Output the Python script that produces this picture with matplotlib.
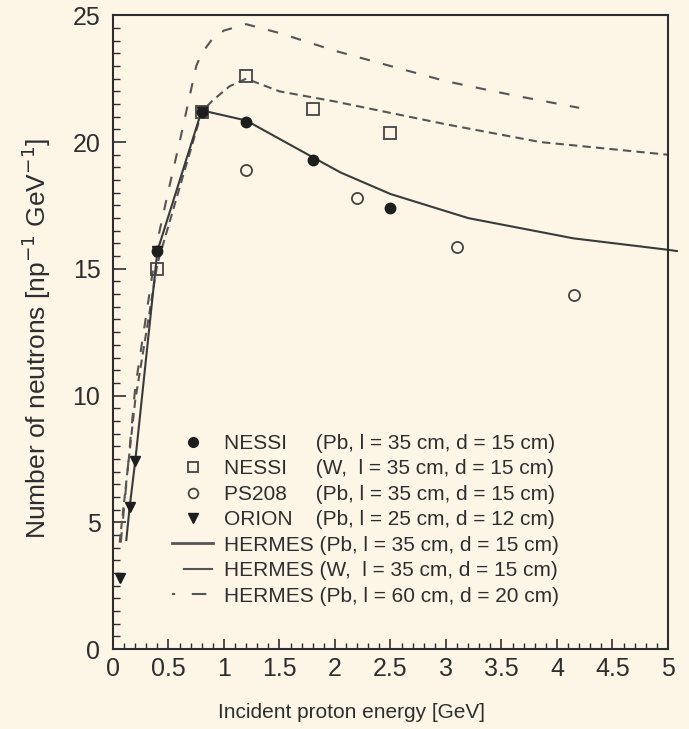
import matplotlib
matplotlib.use("Agg")
import matplotlib.pyplot as plt
from matplotlib.lines import Line2D
from matplotlib.ticker import MultipleLocator

# measured points
nessi_pb_x = [0.4, 0.8, 1.2, 1.8, 2.5]
nessi_pb_y = [15.7, 21.2, 20.8, 19.3, 17.4]
nessi_w_x = [0.4, 0.8, 1.2, 1.8, 2.5]
nessi_w_y = [15.0, 21.2, 22.6, 21.3, 20.35]
ps208_x = [1.2, 2.2, 3.1, 4.15]
ps208_y = [18.9, 17.8, 15.85, 13.95]
orion_x = [0.06, 0.15, 0.2, 0.4, 0.8]
orion_y = [2.8, 5.6, 7.4, 15.7, 21.2]

# HERMES calculations
hermes_pb_x = [0.12, 0.15, 0.2, 0.4, 0.8, 1.2, 1.8, 2.05, 2.5, 3.2, 4.15, 5.0, 5.08]
hermes_pb_y = [4.3, 5.6, 7.4, 15.7, 21.25, 20.85, 19.4, 18.8, 17.95, 17.0, 16.2, 15.75, 15.7]
hermes_w_x = [0.06, 0.1, 0.15, 0.2, 0.4, 0.8, 0.9, 1.05, 1.2, 1.5, 2.0, 2.5, 3.0, 3.85, 5.0]
hermes_w_y = [4.2, 5.8, 7.8, 9.8, 15.2, 21.2, 21.65, 22.2, 22.5, 22.0, 21.6, 21.15, 20.7, 20.0, 19.5]
hermes_pb60_x = [0.07, 0.12, 0.2, 0.4, 0.5, 0.6, 0.7, 0.75, 0.8, 0.9, 1.0, 1.2, 1.5, 2.0, 2.5, 3.0, 3.6, 4.2]
hermes_pb60_y = [4.2, 6.5, 10.3, 16.1, 18.1, 20.0, 22.0, 23.0, 23.5, 24.1, 24.4, 24.65, 24.3, 23.6, 23.0, 22.4, 21.85, 21.35]

legend_names = ["NESSI", "NESSI", "PS208", "ORION", "HERMES", "HERMES", "HERMES"]
legend_pads = [5, 5, 5, 4, 1, 1, 1]
legend_details = ["(Pb, l = 35 cm, d = 15 cm)", "(W,  l = 35 cm, d = 15 cm)",
                  "(Pb, l = 35 cm, d = 15 cm)", "(Pb, l = 25 cm, d = 12 cm)",
                  "(Pb, l = 35 cm, d = 15 cm)", "(W,  l = 35 cm, d = 15 cm)",
                  "(Pb, l = 60 cm, d = 20 cm)"]

bg = "#fdf6e7"
ink = "#2e2e2e"
plt.rcParams['font.family'] = ['Liberation Sans', 'DejaVu Sans']

fig = plt.figure(figsize=(6.89, 7.29), dpi=100, facecolor=bg)
ax = fig.add_axes([0.164, 0.1097, 0.8055, 0.8693], facecolor=bg)

ax.plot(hermes_pb60_x, hermes_pb60_y, color="#555555", lw=1.5, dashes=(5, 6.5))
ax.plot(hermes_w_x, hermes_w_y, color="#555555", lw=1.5, dashes=(4, 2.5))
ax.plot(hermes_pb_x, hermes_pb_y, color="#3a3a3a", lw=1.5, clip_on=False)

ax.plot(nessi_w_x, nessi_w_y, ls="none", marker="s", ms=8, mfc="none", mec="#444444", mew=1.3)
ax.plot(ps208_x, ps208_y, ls="none", marker="o", ms=8, mfc="none", mec="#444444", mew=1.3)
ax.plot(nessi_pb_x, nessi_pb_y, ls="none", marker="o", ms=7.5, color="#1e1e1e")
ax.plot(orion_x, orion_y, ls="none", marker="v", ms=7, color="#1e1e1e")

handles = [
    Line2D([], [], ls="none", marker="o", ms=7, color="#1e1e1e"),
    Line2D([], [], ls="none", marker="s", ms=7, mfc="none", mec="#444444", mew=1.3),
    Line2D([], [], ls="none", marker="o", ms=7, mfc="none", mec="#444444", mew=1.3),
    Line2D([], [], ls="none", marker="v", ms=7, color="#1e1e1e"),
    Line2D([], [], color="#555555", lw=2.0),
    Line2D([], [], color="#555555", lw=1.5, dashes=(0.01, 5.2, 14.5, 50)),
    Line2D([], [], color="#555555", lw=1.5, dashes=(1.5, 8, 7, 50)),
]
labels = [n + " " * p + d for n, p, d in zip(legend_names, legend_pads, legend_details)]
leg = ax.legend(handles, labels, loc="lower center", bbox_to_anchor=(0.455, 0.052),
                frameon=False, fontsize=15, handlelength=1.95, handletextpad=0.5,
                labelspacing=0.31, borderpad=0, labelcolor=ink)

ax.set_xlim(0, 5)
ax.set_ylim(0, 25)
ax.xaxis.set_major_locator(MultipleLocator(0.5))
ax.xaxis.set_minor_locator(MultipleLocator(0.1))
ax.yaxis.set_major_locator(MultipleLocator(5))
ax.yaxis.set_minor_locator(MultipleLocator(0.5))
ax.set_xticks([0, 0.5, 1, 1.5, 2, 2.5, 3, 3.5, 4, 4.5, 5])
ax.set_xticklabels(["0", "0.5", "1", "1.5", "2", "2.5", "3", "3.5", "4", "4.5", "5"])

ax.tick_params(which="both", direction="in", colors=ink, labelsize=18)
ax.tick_params(axis="y", which="major", length=9, width=1.2, pad=9)
ax.tick_params(axis="y", which="minor", length=5, width=1.0)
ax.tick_params(axis="x", which="major", length=7, width=1.2, pad=6)
ax.tick_params(axis="x", which="minor", length=4, width=1.0)
for s in ax.spines.values():
    s.set_color(ink)
    s.set_linewidth(1.5)

ax.set_xlabel("Incident proton energy [GeV]", fontsize=15, color=ink)
ax.xaxis.set_label_coords(0.43, -0.085)
ax.set_ylabel("Number of neutrons [np$^{-1}$ GeV$^{-1}$]", fontsize=19, color=ink)
ax.yaxis.set_label_coords(-0.108, 0.49)

fig.savefig("out.png", dpi=100, facecolor=bg)
